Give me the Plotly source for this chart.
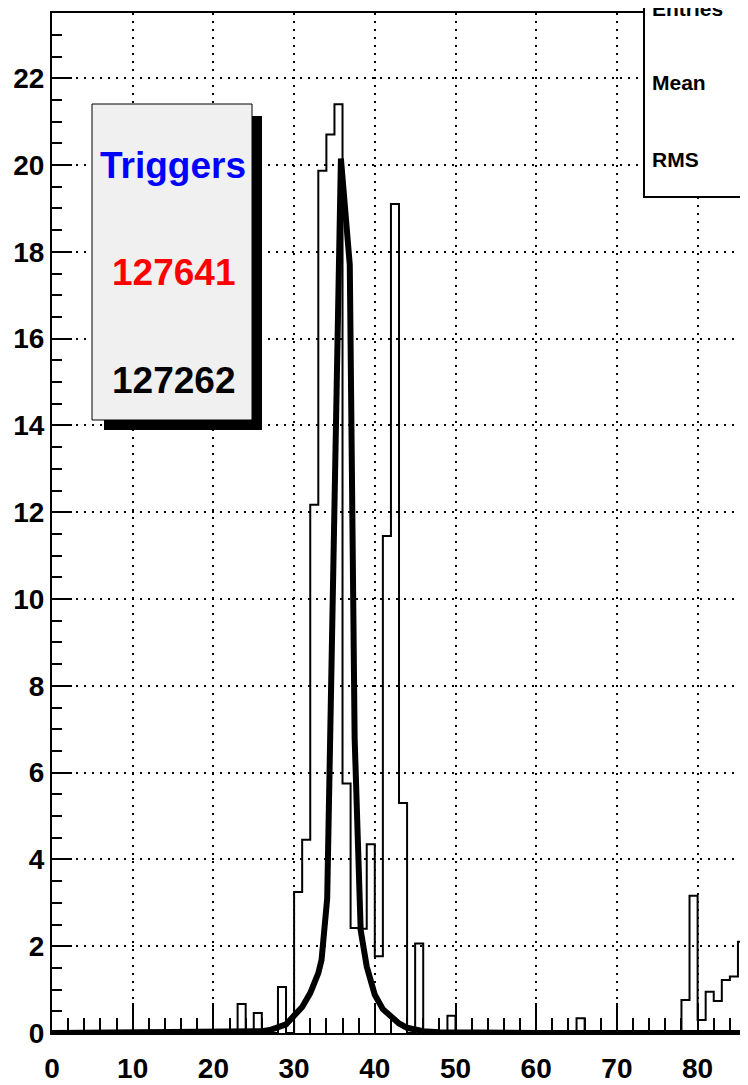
import plotly.graph_objects as go

# histogram: unit-width bins, left edges 0..85 (the frame is cut at ~86)
bin_edges = list(range(0, 87))
counts = [
    0, 0, 0, 0, 0, 0, 0, 0, 0, 0,
    0, 0, 0, 0, 0, 0, 0, 0, 0, 0,
    0, 0, 0, 0.67, 0, 0.46, 0, 0, 1.06, 0,
    3.25, 4.45, 12.17, 19.87, 20.7, 21.4, 5.75, 2.42, 2.40, 4.35,
    1.77, 11.45, 19.1, 5.3, 0, 2.06, 0, 0, 0, 0.4,
    0, 0, 0, 0, 0, 0, 0, 0, 0, 0,
    0, 0, 0, 0, 0, 0.34, 0, 0, 0, 0,
    0, 0, 0, 0, 0, 0, 0, 0, 0.76, 3.16,
    0.3, 0.95, 0.74, 1.22, 1.3, 2.1,
]

# fitted curve, points
fit_x = [0, 10, 20, 24, 26, 27, 28, 29, 30, 31, 32, 33, 33.4, 34.1, 35.8,
         36.9, 37.5, 38.25, 39.0, 40, 41, 42, 43, 44, 45, 46, 48, 52, 60, 86.3]
fit_y = [0.0, 0.01, 0.02, 0.03, 0.04, 0.07, 0.12, 0.2, 0.4, 0.6, 0.92, 1.38, 1.68, 3.1, 20.15,
         17.7, 6.8, 2.37, 1.53, 0.88, 0.55, 0.37, 0.22, 0.12, 0.07, 0.04, 0.02, 0.01, 0.0, 0.0]

box_lines = ["Triggers", "127641", "127262"]
box_colors = ["#0000ff", "#ff0000", "#000000"]
stats_labels = ["Entries", "Mean", "RMS"]

# the page body adds 8px around the figure, so the figure is sized/offset for that
OFF = 8
W, H = 740, 1077
ML, MR, MT, MB = 44, 0, 5, 52
PW, PH = W - ML - MR, H - MT - MB
FONT = "Liberation Sans"


# page pixel -> paper coords
def px(xp):
    return (xp - OFF - ML) / PW


def py(yp):
    return (MT + PH - (yp - OFF)) / PH


fig = go.Figure()

fig.add_trace(go.Scatter(
    x=bin_edges,
    y=counts + [counts[-1]],
    mode="lines",
    line=dict(color="black", width=2, shape="hv"),
    showlegend=False,
))

fig.add_trace(go.Scatter(
    x=fit_x,
    y=fit_y,
    mode="lines",
    line=dict(color="black", width=6),
    showlegend=False,
))

# Triggers box with shadow
fig.add_shape(type="rect", xref="paper", yref="paper",
              x0=px(104), x1=px(262), y0=py(430), y1=py(116),
              fillcolor="black", line=dict(width=0))
fig.add_shape(type="rect", xref="paper", yref="paper",
              x0=px(92), x1=px(252), y0=py(420), y1=py(104),
              fillcolor="#f0f0f0", line=dict(color="black", width=1))
for txt, col, yy in zip(box_lines, box_colors, [165, 272, 380]):
    fig.add_annotation(xref="paper", yref="paper", x=px(173), y=py(yy),
                       xanchor="center", yanchor="middle",
                       text=txt, showarrow=False,
                       font=dict(family=FONT, size=37, color=col, weight="bold"))

# stats box (cut by the page edge, like the original)
fig.add_shape(type="rect", xref="paper", yref="paper",
              x0=px(644), x1=px(770), y0=py(197), y1=py(-20),
              fillcolor="white", line=dict(color="black", width=2))
for txt, yy in zip(stats_labels, [8, 83, 159]):
    fig.add_annotation(xref="paper", yref="paper", x=px(650), y=py(yy),
                       xanchor="left", yanchor="middle", text=txt, showarrow=False,
                       font=dict(family=FONT, size=21, color="black", weight="bold"))

fig.update_xaxes(
    range=[0, PW / 8.07], dtick=10, tick0=0,
    showline=True, linecolor="black", linewidth=2, mirror=True,
    ticks="inside", ticklen=30, tickwidth=2, tickcolor="black",
    minor=dict(dtick=2, ticks="inside", ticklen=15, tickwidth=2, tickcolor="black", showgrid=False),
    showgrid=True, gridcolor="black", gridwidth=2, griddash="2px,6px",
    zeroline=False, ticklabelstandoff=9,
    tickfont=dict(family=FONT, size=28, color="black", weight="bold"),
)
fig.update_yaxes(
    range=[0, PH / 43.4], dtick=2, tick0=0,
    showline=True, linecolor="black", linewidth=2,
    ticks="inside", ticklen=20, tickwidth=2, tickcolor="black",
    minor=dict(dtick=0.5, ticks="inside", ticklen=10, tickwidth=2, tickcolor="black", showgrid=False),
    showgrid=True, gridcolor="black", gridwidth=2, griddash="2px,6px",
    zeroline=False,
    tickfont=dict(family=FONT, size=28, color="black", weight="bold"),
)

fig.update_layout(
    width=W, height=H,
    margin=dict(l=ML, r=MR, t=MT, b=MB, autoexpand=False),
    paper_bgcolor="white", plot_bgcolor="white",
    showlegend=False,
)

fig.write_html("out.html")
